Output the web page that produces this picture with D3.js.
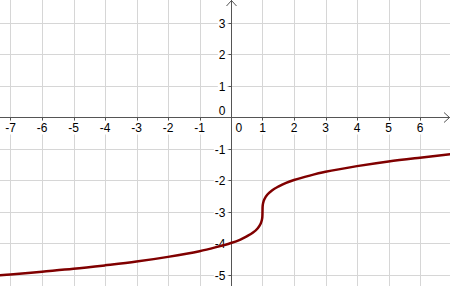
<!DOCTYPE html>
<html>
<head>
<meta charset="utf-8">
<script src="https://cdn.jsdelivr.net/npm/d3@7"></script>
<style>
  body { margin: 0; background: #fff; }
  svg { display: block; }
  text { font-family: "Liberation Sans", Arial, sans-serif; font-size: 12px; fill: #000; }
</style>
</head>
<body>
<div id="chart"></div>
<script>
// tick values
var xTicks = [-7, -6, -5, -4, -3, -2, -1, 0, 1, 2, 3, 4, 5, 6];
var yTicks = [-5, -4, -3, -2, -1, 0, 1, 2, 3];

// points
var curveX = [-7.4, -7, -6, -5, -4, -3, -2, -1, -0.5, 0, 0.3, 0.5, 0.7, 0.85, 0.94, 0.98, 0.995, 1,
              1.005, 1.02, 1.06, 1.15, 1.3, 1.5, 1.75, 2, 2.5, 3, 4, 5, 6, 7];
var curveY = [-5.03, -5.00, -4.91, -4.82, -4.71, -4.59, -4.44, -4.26, -4.14, -4.00, -3.89, -3.79, -3.67, -3.53, -3.39, -3.27, -3.17, -3.00,
              -2.83, -2.73, -2.61, -2.47, -2.33, -2.21, -2.09, -2.00, -1.86, -1.74, -1.56, -1.41, -1.29, -1.18];

var width = 450, height = 286,
    unit = 31.5, ox = 231, oy = 117;

var xScale = d3.scaleLinear().domain([-ox / unit, (width - ox) / unit]).range([0, width]),
    yScale = d3.scaleLinear().domain([-(height - oy) / unit, oy / unit]).range([height, 0]);

function crisp(v) { return Math.round(v) + 0.5; }

var svg = d3.select("#chart").append("svg")
    .attr("width", width)
    .attr("height", height);

// grid
var grid = svg.append("g").attr("stroke", "#d6d6d6").attr("stroke-width", 1);
grid.selectAll(".vg").data(xTicks.filter(function(t) { return t !== 0; }))
  .enter().append("line")
    .attr("x1", function(d) { return crisp(xScale(d)); })
    .attr("x2", function(d) { return crisp(xScale(d)); })
    .attr("y1", 0).attr("y2", height);
grid.selectAll(".hg").data(yTicks.filter(function(t) { return t !== 0; }))
  .enter().append("line")
    .attr("y1", function(d) { return crisp(yScale(d)); })
    .attr("y2", function(d) { return crisp(yScale(d)); })
    .attr("x1", 0).attr("x2", width);

// labels with white backing
var labels = svg.append("g");

function addLabel(x, y, anchor, txt) {
  var g = labels.append("g");
  var t = g.append("text")
      .attr("x", x).attr("y", y)
      .attr("text-anchor", anchor)
      .text(txt);
  var b = t.node().getBBox();
  g.insert("rect", "text")
      .attr("x", b.x - 1).attr("y", b.y)
      .attr("width", b.width + 2).attr("height", b.height)
      .attr("fill", "#fff");
}

var x0 = crisp(xScale(0)), y0 = crisp(yScale(0));

xTicks.forEach(function(t) {
  if (t === 0) addLabel(x0 + 4, y0 + 14, "start", "0");
  else addLabel(xScale(t), y0 + 14, "middle", String(t));
});
yTicks.forEach(function(t) {
  if (t === 0) addLabel(x0 - 6, y0 - 3, "end", "0");
  else addLabel(x0 - 6, yScale(t) + 5, "end", String(t));
});

// axes
var axes = svg.append("g").attr("stroke", "#555").attr("stroke-width", 1).attr("fill", "none");
axes.append("line").attr("x1", 0).attr("x2", width).attr("y1", y0).attr("y2", y0);
axes.append("line").attr("x1", x0).attr("x2", x0).attr("y1", 0).attr("y2", height);
axes.append("path").attr("d", "M" + (width - 6) + "," + (y0 - 5) + "L" + (width - 0.5) + "," + y0 + "L" + (width - 6) + "," + (y0 + 5));
axes.append("path").attr("d", "M" + (x0 - 5) + ",6L" + x0 + ",0.5L" + (x0 + 5) + ",6");

// small tick marks on axes
axes.selectAll(".xt").data(xTicks.filter(function(t) { return t !== 0; }))
  .enter().append("line")
    .attr("x1", function(d) { return crisp(xScale(d)); })
    .attr("x2", function(d) { return crisp(xScale(d)); })
    .attr("y1", y0).attr("y2", y0 + 3);
axes.selectAll(".yt").data(yTicks.filter(function(t) { return t !== 0; }))
  .enter().append("line")
    .attr("y1", function(d) { return crisp(yScale(d)); })
    .attr("y2", function(d) { return crisp(yScale(d)); })
    .attr("x1", x0 - 3).attr("x2", x0);

// curve
var pts = curveX.map(function(x, i) { return [x, curveY[i]]; });
var line = d3.line()
    .x(function(d) { return xScale(d[0]); })
    .y(function(d) { return yScale(d[1]); })
    .curve(d3.curveCatmullRom.alpha(0.5));

svg.append("path")
    .datum(pts)
    .attr("fill", "none")
    .attr("stroke", "#800000")
    .attr("stroke-width", 2.5)
    .attr("d", line);
</script>
</body>
</html>
